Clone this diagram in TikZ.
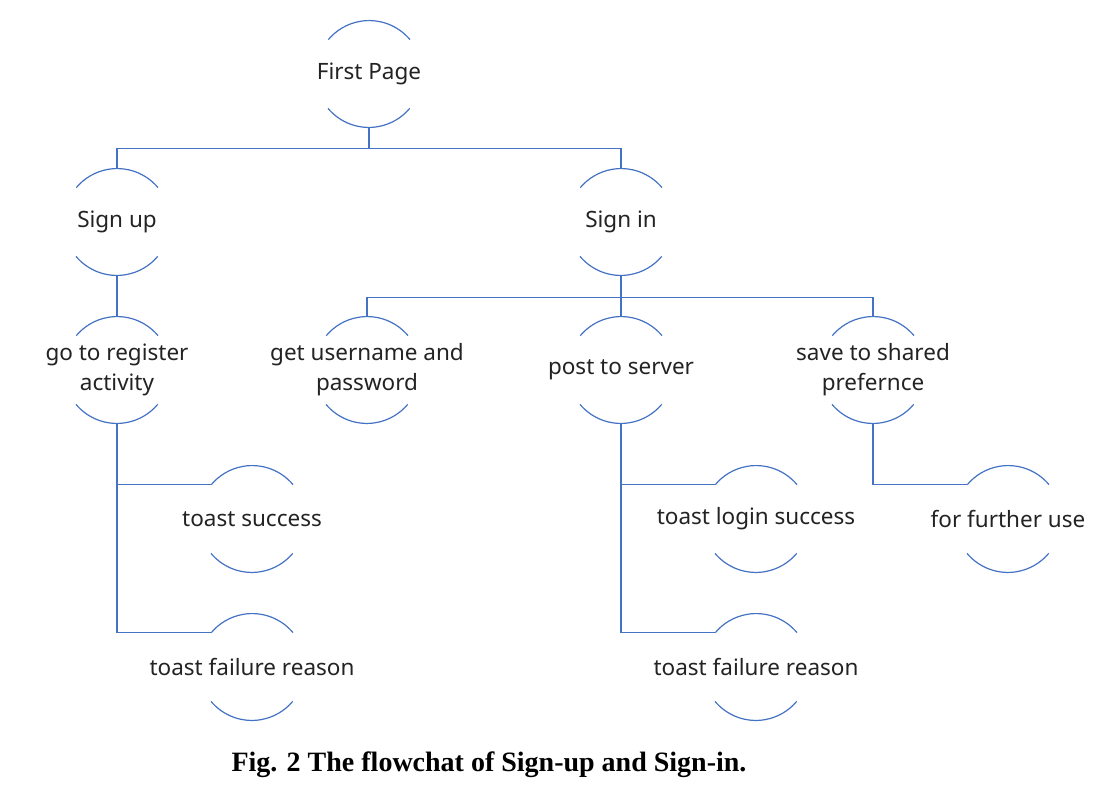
\documentclass[tikz,border=0pt]{standalone}
\usepackage{fontspec}
\setmainfont{Noto Sans}
\newfontfamily\capfont{Liberation Serif}
\definecolor{lnblue}{RGB}{68,114,196}
\definecolor{txtgray}{RGB}{35,35,35}
\begin{document}
\begin{tikzpicture}[x=1pt,y=1pt,
  ln/.style={draw=lnblue,line width=1.2pt},
  blob/.style={circle,minimum size=106.6pt,inner sep=0pt,draw=none},
  txt/.style={font=\fontsize{22.5}{30}\selectfont,text=txtgray,align=center,inner sep=0pt}]
\useasboundingbox (0,0) rectangle (1106,-804);
\fill[white] (0,0) rectangle (1106,-804);
\newcommand\blobnode[3]{\node[blob,label={[txt]center:#3}] (#1) at #2 {};}
\blobnode{fp}{(369,-74)}{First Page}
\blobnode{su}{(117,-222)}{Sign up}
\blobnode{si}{(621,-222)}{Sign in}
\blobnode{gr}{(117,-370)}{go to register\\activity}
\blobnode{gu}{(367,-370)}{get username and\\password}
\blobnode{ps}{(621,-370)}{post to server}
\blobnode{sp}{(873,-370)}{save to shared\\prefernce}
\blobnode{ts}{(252,-519)}{toast success}
\blobnode{tf}{(252,-667)}{toast failure reason}
\blobnode{tl}{(756,-519)}{toast login success}
\blobnode{fu}{(1008,-519)}{for further use}
\blobnode{tr}{(756,-667)}{toast failure reason}
\foreach \n in {fp,su,si,gr,gu,ps,sp,ts,tf,tl,fu,tr}{
  \draw[ln] (\n.40) arc[start angle=40,end angle=140,radius=53.3pt];
  \draw[ln] (\n.220) arc[start angle=220,end angle=320,radius=53.3pt];
}
\draw[ln] (fp.south) -- ++(0,-21) -| (su.north);
\draw[ln] (fp.south) -- ++(0,-21) -| (si.north);
\draw[ln] (su.south) -- (gr.north);
\draw[ln] (si.south) -- (ps.north);
\draw[ln] (si.south) -- ++(0,-22) -| (gu.north);
\draw[ln] (si.south) -- ++(0,-22) -| (sp.north);
\draw[ln] (gr.south) |- (ts.140);
\draw[ln] (gr.south) |- (tf.140);
\draw[ln] (ps.south) |- (tl.140);
\draw[ln] (ps.south) |- (tr.140);
\draw[ln] (sp.south) |- (fu.140);
\node[font=\capfont\bfseries\fontsize{28}{32}\selectfont,inner sep=0pt] (cap) at (489,-765) {Fig. 2 The flowchat of Sign-up and Sign-in.};
\end{tikzpicture}
\end{document}
